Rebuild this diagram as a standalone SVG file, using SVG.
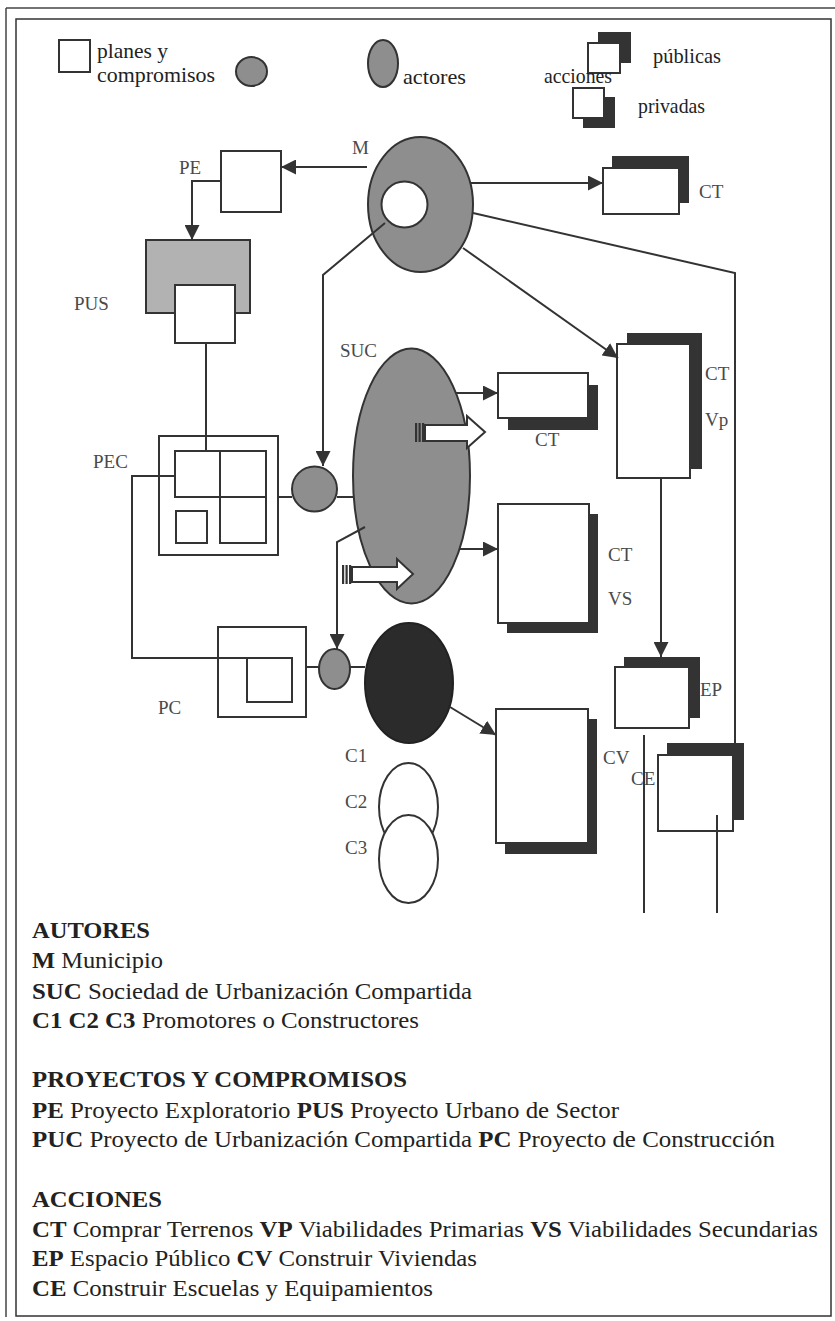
<svg xmlns="http://www.w3.org/2000/svg" width="835" height="1321" viewBox="0 0 835 1321">
<style>
.ln{stroke:#333;stroke-width:2;fill:none}
.box{fill:#fff;stroke:#333;stroke-width:2}
.sh{fill:#333}
.gr{fill:#8e8e8e;stroke:#333;stroke-width:2}
.lbl{font-family:"Liberation Serif","Times New Roman",serif;font-size:19px;fill:#4a4a4a}
.leg{font-family:"Liberation Serif","Times New Roman",serif;font-size:21px;fill:#222}
.txt{font-family:"Liberation Serif","Times New Roman",serif;font-size:23px;fill:#222}
.b{font-weight:bold}
</style>
<defs>
<marker id="ah" viewBox="0 0 10 10" refX="10" refY="5" markerWidth="15" markerHeight="15" markerUnits="userSpaceOnUse" orient="auto"><path d="M0,0 L10,5 L0,10 z" fill="#333"/></marker>
</defs>
<rect width="835" height="1321" fill="#fff"/>
<g id="frame">
<line x1="6" y1="8" x2="835" y2="8" stroke="#444" stroke-width="1.5"/>
<line x1="6" y1="8" x2="6" y2="1317" stroke="#444" stroke-width="1.5"/>
<rect x="16" y="19" width="815" height="1297" fill="none" stroke="#333" stroke-width="1.5"/>
</g>
<g id="legend">
<rect x="59" y="40" width="31" height="32" class="box"/>
<text class="leg" x="97" y="58" textLength="71" lengthAdjust="spacingAndGlyphs">planes y</text>
<text class="leg" x="97" y="82" textLength="118" lengthAdjust="spacingAndGlyphs">compromisos</text>
<ellipse cx="251.5" cy="71.5" rx="15.5" ry="14.5" class="gr"/>
<ellipse cx="383" cy="63.5" rx="15" ry="23.5" class="gr"/>
<text class="leg" x="403" y="84" textLength="63" lengthAdjust="spacingAndGlyphs">actores</text>
<rect x="598" y="32" width="33" height="31" class="sh"/>
<rect x="588" y="43" width="32" height="30" class="box"/>
<text class="leg" x="653" y="63" textLength="68" lengthAdjust="spacingAndGlyphs">públicas</text>
<text class="leg" x="544" y="83" textLength="68" lengthAdjust="spacingAndGlyphs">acciones</text>
<rect x="583" y="97" width="32" height="31" class="sh"/>
<rect x="573" y="88" width="31" height="30" class="box"/>
<text class="leg" x="638" y="113" textLength="67" lengthAdjust="spacingAndGlyphs">privadas</text>
</g>
<g id="M">
<ellipse cx="420.5" cy="204.5" rx="52.5" ry="67.5" class="gr"/>
<circle cx="404.5" cy="204.5" r="23" class="box"/>
<text class="lbl" x="352" y="154">M</text>
</g>
<g id="PE">
<rect x="221" y="151" width="60" height="61" class="box"/>
<text class="lbl" x="179" y="174">PE</text>
</g>
<g id="PUS">
<rect x="146" y="240" width="104" height="73" fill="#b2b2b2" stroke="#333" stroke-width="2"/>
<rect x="175" y="285" width="60" height="58" class="box"/>
<text class="lbl" x="74" y="310">PUS</text>
</g>
<g id="CT1">
<rect x="612" y="156" width="77" height="47" class="sh"/>
<rect x="603" y="168" width="76" height="46" class="box"/>
<text class="lbl" x="699" y="198">CT</text>
</g>
<g id="SUC">
<ellipse cx="411.5" cy="476" rx="58.5" ry="127.5" class="gr"/>
<text class="lbl" x="340" y="357">SUC</text>
<path d="M425,425 L467,425 L467,416 L485,432 L467,448 L467,441 L425,441 Z" class="box"/>
<rect x="415" y="423" width="2.2" height="19" class="sh"/>
<rect x="418.5" y="423" width="2.2" height="19" class="sh"/>
<rect x="422" y="423" width="2.2" height="19" class="sh"/>
<path d="M352,567 L397,567 L397,559 L413,574 L397,589 L397,582 L352,582 Z" class="box"/>
<rect x="342" y="565" width="2.2" height="19" class="sh"/>
<rect x="345.5" y="565" width="2.2" height="19" class="sh"/>
<rect x="349" y="565" width="2.2" height="19" class="sh"/>
</g>
<g id="PEC">
<rect x="159" y="436" width="119" height="119" class="box"/>
<rect x="175" y="451" width="45" height="46" class="box"/>
<rect x="220" y="451" width="46" height="46" class="box"/>
<rect x="220" y="497" width="46" height="46" class="box"/>
<rect x="176" y="511" width="31" height="32" class="box"/>
<text class="lbl" x="93" y="468">PEC</text>
</g>
<g id="link1">
<circle cx="314.5" cy="489" r="22.5" class="gr"/>
</g>
<g id="CT2">
<rect x="508" y="385" width="90" height="45" class="sh"/>
<rect x="498" y="373" width="90" height="45" class="box"/>
<text class="lbl" x="535" y="446">CT</text>
</g>
<g id="CTVp">
<rect x="627" y="333" width="75" height="136" class="sh"/>
<rect x="617" y="344" width="73" height="134" class="box"/>
<text class="lbl" x="705" y="380">CT</text>
<text class="lbl" x="705" y="426">Vp</text>
</g>
<g id="CTVS">
<rect x="507" y="514" width="91" height="119" class="sh"/>
<rect x="498" y="504" width="91" height="119" class="box"/>
<text class="lbl" x="608" y="561">CT</text>
<text class="lbl" x="608" y="605">VS</text>
</g>
<g id="PC">
<rect x="218" y="627" width="88" height="90" class="box"/>
<rect x="247" y="658" width="45" height="44" class="box"/>
<text class="lbl" x="158" y="714">PC</text>
</g>
<g id="link2">
<ellipse cx="334.5" cy="669" rx="15.5" ry="20" class="gr"/>
</g>
<g id="C">
<ellipse cx="409" cy="683" rx="44" ry="60" fill="#2b2b2b" stroke="#222" stroke-width="2"/>
<ellipse cx="408.5" cy="807" rx="29.5" ry="44" class="box"/>
<ellipse cx="408.5" cy="859" rx="29.5" ry="44" class="box"/>
<text class="lbl" x="345" y="762">C1</text>
<text class="lbl" x="345" y="808">C2</text>
<text class="lbl" x="345" y="854">C3</text>
</g>
<g id="EP">
<rect x="624" y="657" width="76" height="61" class="sh"/>
<rect x="615" y="667" width="74" height="61" class="box"/>
<text class="lbl" x="700" y="696">EP</text>
</g>
<g id="CV">
<rect x="505" y="719" width="92" height="135" class="sh"/>
<rect x="496" y="709" width="92" height="134" class="box"/>
<text class="lbl" x="603" y="764">CV</text>
</g>
<g id="CE">
<rect x="667" y="743" width="77" height="77" class="sh"/>
<rect x="658" y="755" width="75" height="76" class="box"/>
<text class="lbl" x="631" y="785">CE</text>
</g>
<g id="connectors">
<line x1="367" y1="167" x2="281" y2="167" class="ln" marker-end="url(#ah)"/>
<polyline points="221,181 192,181 192,240" class="ln" marker-end="url(#ah)"/>
<line x1="206" y1="343" x2="206" y2="451" class="ln"/>
<line x1="471" y1="183" x2="603" y2="183" class="ln" marker-end="url(#ah)"/>
<line x1="463" y1="248" x2="618" y2="358" class="ln" marker-end="url(#ah)"/>
<polyline points="473,213 735,273 735,743" class="ln"/>
<polyline points="385,223 323,275 323,466" class="ln" marker-end="url(#ah)"/>
<line x1="278" y1="497" x2="292" y2="497" class="ln"/>
<line x1="337" y1="497" x2="353" y2="497" class="ln"/>
<polyline points="175,476 132,476 132,658 247,658" class="ln"/>
<line x1="456" y1="393" x2="498" y2="393" class="ln" marker-end="url(#ah)"/>
<line x1="459" y1="549" x2="498" y2="549" class="ln" marker-end="url(#ah)"/>
<polyline points="365,527 337,542 337,649" class="ln" marker-end="url(#ah)"/>
<line x1="306" y1="667" x2="319" y2="667" class="ln"/>
<line x1="350" y1="667" x2="365" y2="667" class="ln"/>
<line x1="450" y1="707" x2="496" y2="735" class="ln" marker-end="url(#ah)"/>
<line x1="661" y1="478" x2="661" y2="657" class="ln" marker-end="url(#ah)"/>
<line x1="644" y1="735" x2="644" y2="913" class="ln"/>
<line x1="717" y1="815" x2="717" y2="913" class="ln"/>
</g>
<g id="key">
<text class="txt b" x="32" y="938" textLength="118" lengthAdjust="spacingAndGlyphs">AUTORES</text>
<text class="txt" x="32" y="968" textLength="131" lengthAdjust="spacingAndGlyphs"><tspan class="b">M</tspan> Municipio</text>
<text class="txt" x="32" y="999" textLength="440" lengthAdjust="spacingAndGlyphs"><tspan class="b">SUC</tspan> Sociedad de Urbanización Compartida</text>
<text class="txt" x="32" y="1028" textLength="387" lengthAdjust="spacingAndGlyphs"><tspan class="b">C1 C2 C3</tspan> Promotores o Constructores</text>
<text class="txt b" x="32" y="1087" textLength="375" lengthAdjust="spacingAndGlyphs">PROYECTOS Y COMPROMISOS</text>
<text class="txt" x="32" y="1118" textLength="587" lengthAdjust="spacingAndGlyphs"><tspan class="b">PE</tspan> Proyecto Exploratorio <tspan class="b">PUS</tspan> Proyecto Urbano de Sector</text>
<text class="txt" x="32" y="1147" textLength="743" lengthAdjust="spacingAndGlyphs"><tspan class="b">PUC</tspan> Proyecto de Urbanización Compartida <tspan class="b">PC</tspan> Proyecto de Construcción</text>
<text class="txt b" x="32" y="1207" textLength="130" lengthAdjust="spacingAndGlyphs">ACCIONES</text>
<text class="txt" x="32" y="1237" textLength="786" lengthAdjust="spacingAndGlyphs"><tspan class="b">CT</tspan> Comprar Terrenos <tspan class="b">VP</tspan> Viabilidades Primarias <tspan class="b">VS</tspan> Viabilidades Secundarias</text>
<text class="txt" x="32" y="1266" textLength="445" lengthAdjust="spacingAndGlyphs"><tspan class="b">EP</tspan> Espacio Público <tspan class="b">CV</tspan> Construir Viviendas</text>
<text class="txt" x="32" y="1296" textLength="401" lengthAdjust="spacingAndGlyphs"><tspan class="b">CE</tspan> Construir Escuelas y Equipamientos</text>
</g>
</svg>
